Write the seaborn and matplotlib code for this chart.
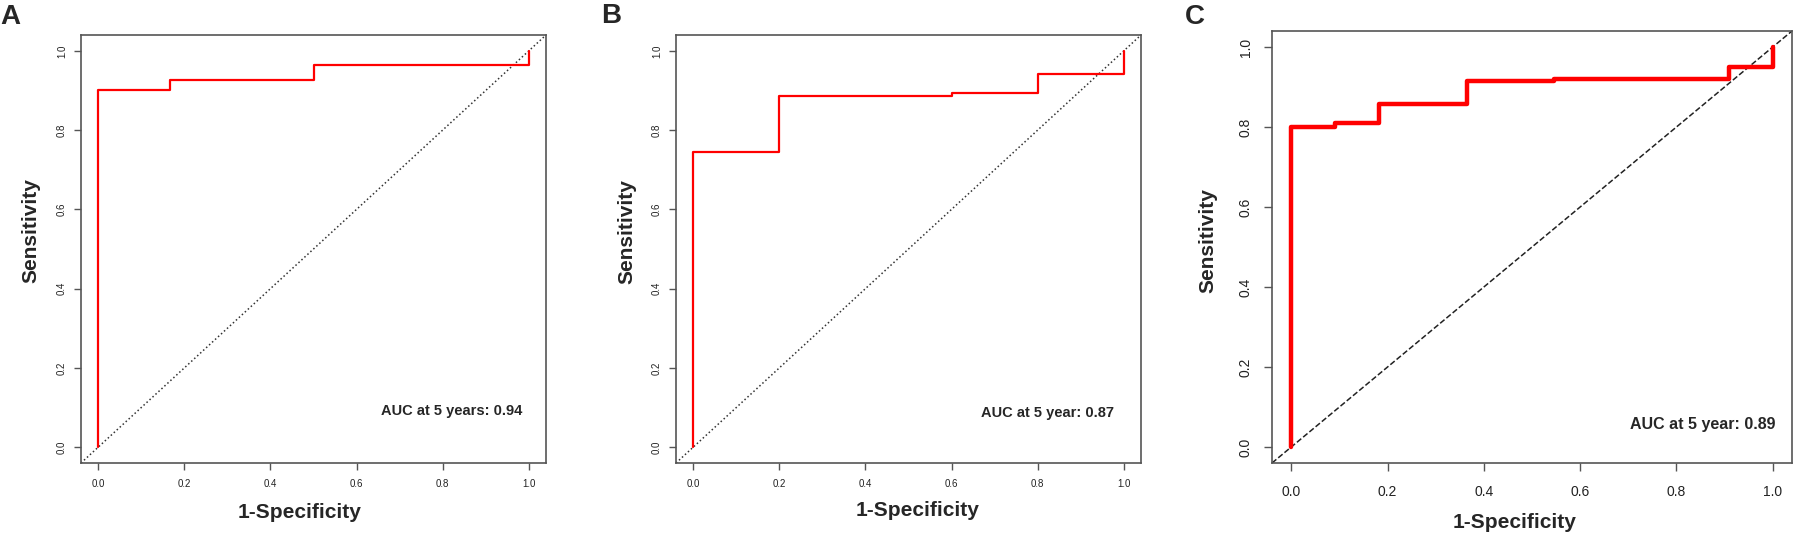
import matplotlib
matplotlib.use("Agg")
import matplotlib.pyplot as plt
from matplotlib import font_manager
import numpy as np
import pandas as pd
import seaborn as sns

# ROC points (1-specificity, sensitivity)
fpr_a = [0.0, 0.0, 0.167, 0.5, 1.0]
tpr_a = [0.0, 0.900, 0.927, 0.964, 1.0]

fpr_b = [0.0, 0.0, 0.2, 0.6, 0.8, 1.0]
tpr_b = [0.0, 0.745, 0.886, 0.893, 0.941, 1.0]

fpr_c = [0.0, 0.0, 0.091, 0.182, 0.364, 0.545, 0.909, 1.0]
tpr_c = [0.0, 0.801, 0.810, 0.858, 0.915, 0.919, 0.949, 1.0]

panel_letters = ["A", "B", "C"]
auc_texts = ["AUC at 5 years: 0.94", "AUC at 5 year: 0.87", "AUC at 5 year: 0.89"]
tick_vals = [0.0, 0.2, 0.4, 0.6, 0.8, 1.0]

sns.set_style("ticks")
plt.rcParams["font.family"] = ["Liberation Sans", "DejaVu Sans"]

installed = {f.name for f in font_manager.fontManager.ttflist}
narrow = "Liberation Sans Narrow" if "Liberation Sans Narrow" in installed else "Liberation Sans"

fig = plt.figure(figsize=(17.94, 5.35), dpi=100)
W, H = 1794, 535

# axes boxes in pixels: left, right, top, bottom
boxes = [(81, 546, 35, 463), (676, 1141, 35, 463), (1272, 1792, 31, 463)]
axes = []
for l, r, t, b in boxes:
    axes.append(fig.add_axes([l / W, (H - b) / H, (r - l) / W, (b - t) / H]))

curves = [(fpr_a, tpr_a), (fpr_b, tpr_b), (fpr_c, tpr_c)]
line_w = [1.6, 1.6, 3.2]
diag_style = [":", ":", "--"]
diag_col = ["#333333", "#333333", "#222222"]
fams = [["Liberation Sans"], ["Liberation Sans"], [narrow, "Liberation Sans"]]
tick_size = [7, 7, 10]
lab_size = [15, 15, 15]
xlab_pos = [(0.469, -0.115), (0.52, -0.112), (0.467, -0.137)]
ylab_pos = [(-0.1075, 0.542), (-0.105, 0.540), (-0.123, 0.514)]
auc_pos = [(0.986, 0.09), (0.977, 0.085), (1.006, 0.055)]
auc_size = [10.5, 10.5, 11.5]
pads = [(6.5, 5), (6.5, 5), (10, 8)]
tick_len = [5, 5, 5.8]
letter_pos = [(10, 17), (611, 16), (1195, 17)]

for i, ax in enumerate(axes):
    fx, ty = curves[i]
    df = pd.DataFrame({"fpr": fx, "tpr": ty})
    ax.axline((0, 0), slope=1, color=diag_col[i], linestyle=diag_style[i], linewidth=1.1)
    sns.lineplot(data=df, x="fpr", y="tpr", ax=ax, estimator=None, sort=False,
                 color="#ff0000", linewidth=line_w[i], drawstyle="steps-post")
    ax.set_xlim(-0.04, 1.04)
    ax.set_ylim(-0.04, 1.04)
    ax.set_xticks(tick_vals)
    ax.set_yticks(tick_vals)
    ax.set_xticklabels([f"{v:.1f}" for v in tick_vals], family=fams[i], fontsize=tick_size[i], color="#222222")
    ax.set_yticklabels([f"{v:.1f}" for v in tick_vals], family=fams[i], fontsize=tick_size[i], color="#222222",
                       rotation=90, va="center")
    ax.tick_params(axis="x", length=tick_len[i], width=1, color="#555555", pad=pads[i][0])
    ax.tick_params(axis="y", length=tick_len[i], width=1, color="#555555", pad=pads[i][1])
    for sp in ax.spines.values():
        sp.set_visible(True)
        sp.set_color("#555555")
        sp.set_linewidth(1.2)
    ax.set_xlabel("1-Specificity", fontsize=lab_size[i], fontweight="bold", family=fams[i], va="center")
    ax.set_ylabel("Sensitivity", fontsize=lab_size[i], fontweight="bold", family=fams[i], va="center")
    ax.xaxis.set_label_coords(*xlab_pos[i])
    ax.yaxis.set_label_coords(*ylab_pos[i])
    ax.text(auc_pos[i][0], auc_pos[i][1], auc_texts[i], ha="right", va="center",
            fontsize=auc_size[i], fontweight="bold", family=fams[i])
    fig.text(letter_pos[i][0] / W, 1 - letter_pos[i][1] / H, panel_letters[i], ha="center", va="center",
             fontsize=20, fontweight="bold", family=["Liberation Sans"])

fig.savefig("out.png", dpi=100)
